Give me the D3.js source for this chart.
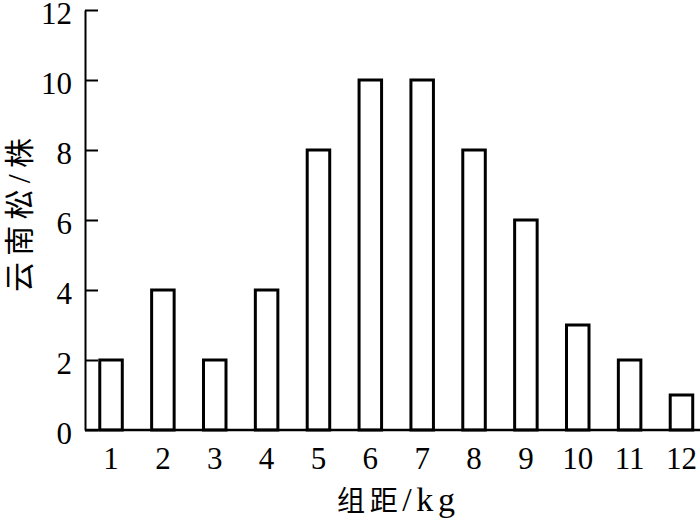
<!doctype html>
<html lang=zh>
<head>
  <meta charset=utf-8>
  <title>云南松组距分布</title>
  <style>
    html, body { margin: 0; padding: 0; background: #fff; }
    svg { display: block; }
    text { font-family: "Liberation Serif", "Times New Roman", serif; fill: #000; }
    .cjk { font-family: "Liberation Serif", "Noto Sans CJK SC", serif; }
  </style>
  <script src="https://cdn.jsdelivr.net/npm/d3@7"></script>
</head>
<body>
<script>
  const classes = [1, 2, 3, 4, 5, 6, 7, 8, 9, 10, 11, 12]
  const counts = [2, 4, 2, 4, 8, 10, 10, 8, 6, 3, 2, 1]
  const yTicks = [0, 2, 4, 6, 8, 10, 12]

  const width = 700
  const height = 521
  const axisX = 85
  const baseY = 430
  const topY = 10

  const svg = d3.select('body').append('svg')
    .attr('width', width)
    .attr('height', height)

  const y = d3.scaleLinear()
    .domain([0, 12])
    .range([baseY, topY])

  const x = d3.scaleBand()
    .domain(classes)
    .range([85.1, 707.4])
    .paddingInner(0.566)
    .paddingOuter(0.283)

  // bars
  svg.append('g')
    .selectAll('rect')
    .data(classes)
    .enter()
    .append('rect')
      .attr('x', d => x(d))
      .attr('y', (d, i) => y(counts[i]))
      .attr('width', x.bandwidth())
      .attr('height', (d, i) => baseY - y(counts[i]))
      .attr('fill', '#fff')
      .attr('stroke', '#000')
      .attr('stroke-width', 3)

  // y axis, ticks pointing inwards
  const gy = svg.append('g')
    .attr('transform', 'translate(' + axisX + ',0)')
    .call(d3.axisRight(y).tickValues(yTicks).tickSize(13).tickSizeOuter(0).tickFormat(d3.format('d')))
  gy.select('.domain').attr('stroke', '#000').attr('stroke-width', 2)
  gy.selectAll('.tick line').attr('stroke', '#000').attr('stroke-width', 2)
  gy.selectAll('.tick text')
    .attr('x', -13)
    .attr('text-anchor', 'end')
    .attr('dy', '0.42em')
    .style('font-size', '31px')
    .style('font-family', '"Liberation Serif", serif')

  // x axis line
  svg.append('line')
    .attr('x1', axisX)
    .attr('x2', width)
    .attr('y1', baseY)
    .attr('y2', baseY)
    .attr('stroke', '#000')
    .attr('stroke-width', 2.5)

  // x tick labels
  svg.append('g')
    .selectAll('text')
    .data(classes)
    .enter()
    .append('text')
      .attr('x', d => x(d) + x.bandwidth() / 2)
      .attr('y', 469)
      .attr('text-anchor', 'middle')
      .style('font-size', '31px')
      .text(d => d)

  // axis titles
  const xt = svg.append('text')
    .attr('class', 'cjk')
    .attr('x', 337)
    .attr('y', 511)
    .attr('textLength', 118)
    .attr('lengthAdjust', 'spacing')
  xt.append('tspan').style('font-size', '28px').text('组距')
  xt.append('tspan').style('font-size', '34px').text('/kg')

  const yt = svg.append('text')
    .attr('class', 'cjk')
    .attr('transform', 'translate(30,292) rotate(-90)')
    .attr('textLength', 154)
    .attr('lengthAdjust', 'spacing')
  yt.append('tspan').style('font-size', '30px').text('云南松')
  yt.append('tspan').style('font-size', '32px').text('/')
  yt.append('tspan').style('font-size', '30px').text('株')
</script>
</body>
</html>
